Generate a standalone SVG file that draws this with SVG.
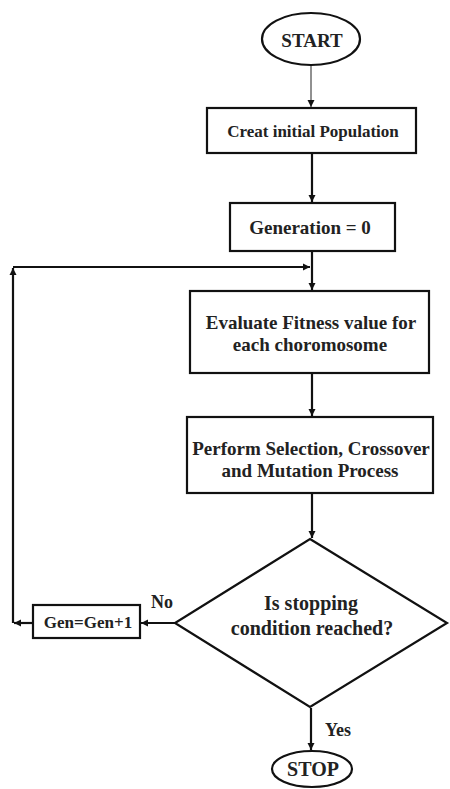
<svg xmlns="http://www.w3.org/2000/svg" width="450" height="789" viewBox="0 0 450 789">
<defs>
<marker id="ah" markerWidth="8" markerHeight="8" refX="7" refY="4" orient="auto" markerUnits="userSpaceOnUse">
<path d="M0,0.5 L7,4 L0,7.5 Z" fill="#111"/>
</marker>
</defs>
<style>
.n{fill:#fff;stroke:#111;stroke-width:2.2}
.t{font-family:'Liberation Serif','Times New Roman','DejaVu Serif',serif;font-weight:700;fill:#222;text-anchor:middle;dominant-baseline:central}
.c{fill:none;stroke:#111;stroke-width:2.2}
</style>
<rect width="450" height="789" fill="#fff"/>
<g id="connectors">
<path d="M311,66 V107" fill="none" stroke="#222" stroke-width="1" marker-end="url(#ah)"/>
<path class="c" d="M312,153 V202" marker-end="url(#ah)"/>
<path class="c" d="M312,251 V290" marker-end="url(#ah)"/>
<path class="c" d="M13,267 H310" marker-end="url(#ah)"/>
<path class="c" d="M312,373 V416" marker-end="url(#ah)"/>
<path class="c" d="M312,493 V538" marker-end="url(#ah)"/>
<path class="c" d="M311,708 V750" marker-end="url(#ah)"/>
<path class="c" d="M175,623 H141" marker-end="url(#ah)"/>
<path class="c" d="M33,623 H14" marker-end="url(#ah)"/>
<path class="c" d="M13,623 V268" marker-end="url(#ah)"/>
<text class="t" x="162" y="602" font-size="18">No</text>
<text class="t" x="338" y="730" font-size="18">Yes</text>
</g>
<g id="start">
<ellipse class="n" cx="311" cy="39" rx="49" ry="26"/>
<text class="t" x="312" y="40" font-size="19">START</text>
</g>
<g id="init">
<rect class="n" x="207" y="108" width="209" height="45"/>
<text class="t" x="313" y="131" font-size="17">Creat initial Population</text>
</g>
<g id="gen0">
<rect class="n" x="230" y="203" width="165" height="48"/>
<text class="t" x="310" y="227" font-size="19">Generation = 0</text>
</g>
<g id="eval">
<rect class="n" x="190" y="291" width="239" height="82"/>
<text class="t" x="311" y="322" font-size="19">Evaluate Fitness value for</text>
<text class="t" x="310" y="344" font-size="19">each choromosome</text>
</g>
<g id="perform">
<rect class="n" x="187" y="417" width="246" height="76"/>
<text class="t" x="311" y="448" font-size="19">Perform Selection, Crossover</text>
<text class="t" x="310" y="470" font-size="19">and Mutation Process</text>
</g>
<g id="decision">
<path class="n" d="M310,539 L447,623 L310,707 L175,623 Z"/>
<text class="t" x="311" y="603" font-size="20">Is stopping</text>
<text class="t" x="312" y="628" font-size="20">condition reached?</text>
</g>
<g id="incr">
<rect class="n" x="33" y="605" width="107" height="33"/>
<text class="t" x="88" y="622" font-size="17" font-weight="normal">Gen=Gen+1</text>
</g>
<g id="stop">
<ellipse class="n" cx="312" cy="769" rx="40" ry="18"/>
<text class="t" x="313" y="769" font-size="20">STOP</text>
</g>
</svg>
